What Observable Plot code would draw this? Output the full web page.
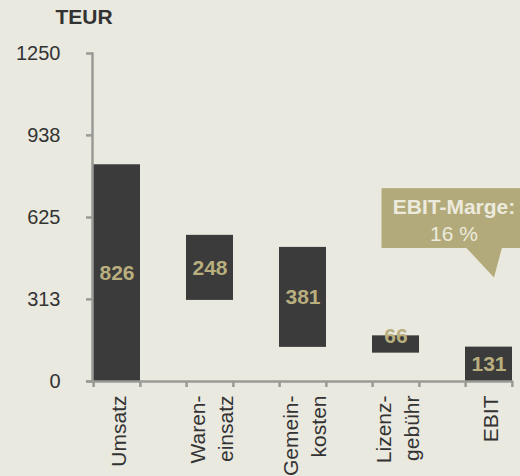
<!DOCTYPE html>
<html><head><meta charset="utf-8">
<script src="https://cdn.jsdelivr.net/npm/d3@7"></script>
<script src="https://cdn.jsdelivr.net/npm/@observablehq/plot@0.6"></script>
<style>
html,body{margin:0;padding:0;background:#eae9df;overflow:hidden;}
</style></head><body><div id="chart"></div>
<script>
const categories = ["Umsatz", "Wareneinsatz", "Gemeinkosten", "Lizenzgebühr", "EBIT"];
const tickLabels = ["Umsatz", "Waren-\neinsatz", "Gemein-\nkosten", "Lizenz-\ngebühr", "EBIT"];
const barStart = [0, 309, 130, 108, 0];
const barEnd = [826, 557, 511, 174, 131];
const valueLabels = [826, 248, 381, 66, 131];
const yTicks = [0, 313, 625, 938, 1250];
const unitLabel = "TEUR";
const calloutTitle = "EBIT-Marge:";
const calloutValue = "16 %";
const calloutTop = 735;
const calloutBottom = 507;

const data = categories.map((c, i) => ({
  cat: c, label: tickLabels[i], start: barStart[i], end: barEnd[i], value: valueLabels[i]
}));

const W = 520, H = 476, mL = 92, mR = 7, mT = 53, mB = 95;
const bw = (W - mL - mR) / (categories.length - 0.5) * 0.5;
const font = "'Liberation Sans', Arial, Helvetica, sans-serif";
const axisGray = "#9a9a96";
const dark = "#3b3b3b";
const khaki = "#b3aa7b";
const labelKhaki = "#b9ae7e";

const triangle = {
  draw(ctx) {
    ctx.moveTo(-23, -1);
    ctx.lineTo(13, -1);
    ctx.lineTo(5, 29);
    ctx.closePath();
  }
};

const chart = Plot.plot({
  width: W, height: H,
  marginLeft: mL, marginRight: mR, marginTop: mT, marginBottom: mB,
  style: {background: "#eae9df", fontFamily: font, overflow: "visible"},
  x: {type: "band", domain: categories, paddingInner: 0.5, paddingOuter: 0, axis: null},
  y: {domain: [0, 1250]},
  marks: [
    Plot.barY(data, {x: "cat", y1: "start", y2: "end", fill: dark}),
    Plot.frame({anchor: "left", stroke: axisGray, strokeWidth: 2.5}),
    Plot.ruleY([0], {stroke: axisGray, strokeWidth: 2.5, insetLeft: -6}),
    Plot.ruleX(data, {x: "cat", y1: 0, y2: 0, insetBottom: -6, dx: -bw / 2, stroke: axisGray, strokeWidth: 2.5}),
    Plot.ruleX(data, {x: "cat", y1: 0, y2: 0, insetBottom: -6, dx: bw / 2, stroke: axisGray, strokeWidth: 2.5}),
    Plot.axisY(yTicks, {tickSize: 6, tickPadding: 26, fontSize: 20, stroke: axisGray, strokeWidth: 2.5, fill: "#333", label: null, tickFormat: d => String(d)}),
    Plot.text(data, {
      x: "cat", text: "label", frameAnchor: "bottom", rotate: -90, textAnchor: "end",
      lineAnchor: "middle", lineHeight: 1.33, dy: 14, fontSize: 21, fill: "#333"
    }),
    Plot.text(data, {
      x: "cat",
      y: d => (d.end - d.start) < 100 ? d.end : (d.start + d.end) / 2,
      text: d => String(d.value), fill: labelKhaki, fontWeight: "bold", fontSize: 21
    }),
    Plot.text([unitLabel], {
      frameAnchor: "top-left", dx: -8.5, dy: -30, lineAnchor: "bottom", textAnchor: "middle",
      fontWeight: "bold", fontSize: 21, fill: "#333"
    }),
    Plot.rectY(["EBIT"], {x: d => d, y1: calloutBottom, y2: calloutTop, insetLeft: -83.5, insetRight: -14, fill: khaki}),
    Plot.dot(["EBIT"], {x: d => d, y: calloutBottom, r: 5, symbol: triangle, fill: khaki, stroke: "none"}),
    Plot.text([calloutTitle], {x: () => "EBIT", y: calloutTop, dx: -35, dy: 25, lineAnchor: "bottom", textAnchor: "middle", fontWeight: "bold", fontSize: 21, fill: "#eceadd"}),
    Plot.text([calloutValue], {x: () => "EBIT", y: calloutTop, dx: -35, dy: 52, lineAnchor: "bottom", textAnchor: "middle", fontSize: 21, fill: "#eceadd"})
  ]
});
document.getElementById("chart").appendChild(chart);
</script>
</body></html>
